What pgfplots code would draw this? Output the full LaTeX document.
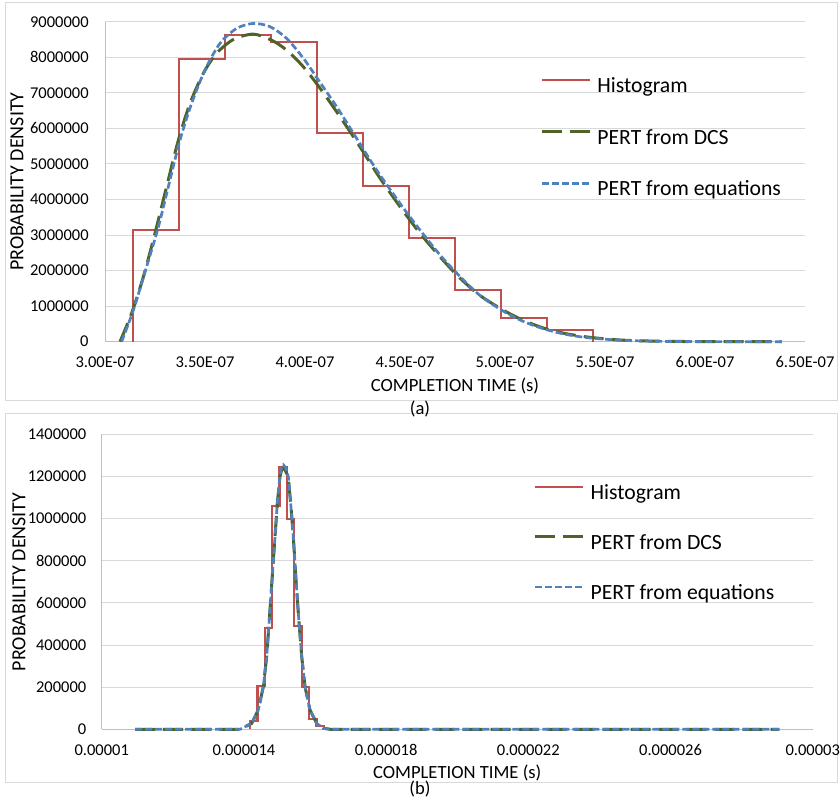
\documentclass[border=0pt]{standalone}
\usepackage{fontspec}
\setmainfont{Carlito}
\usepackage{pgfplots}
\pgfplotsset{compat=1.18}

\definecolor{histred}{HTML}{C0504D}
\definecolor{dcsgreen}{HTML}{4F6228}
\definecolor{eqblue}{HTML}{4F81BD}
\definecolor{gridgray}{HTML}{D9D9D9}
\definecolor{axisgray}{HTML}{BFBFBF}

\pgfplotsset{
  panel/.style={
    scale only axis,
    clip=false,
    axis x line*=bottom,
    axis y line*=left,
    axis line style={draw=axisgray, line width=0.5pt},
    x axis line style={-}, y axis line style={-},
    ymajorgrids,
    grid style={draw=gridgray, line width=0.5pt},
    major tick length=0pt,
    scaled x ticks=false, scaled y ticks=false,
    tick label style={font=\fontsize{8.25}{9.9}\selectfont, inner sep=0pt},
    xticklabel style={anchor=center, yshift=-10.4pt},
    every axis x label/.style={at={(axis description cs:0.5,0)}, anchor=center, yshift=-22pt},
    label style={font=\fontsize{9.3}{11}\selectfont},
    legend cell align=left,
    legend image code/.code={\draw[##1] (0pt,3.6pt) -- (24pt,3.6pt);},
  },
  histo/.style={histred, line width=1.1pt, const plot},
  dcs/.style={dcsgreen, line width=1.5pt, dash pattern=on 10pt off 4pt},
  eqs/.style={eqblue, line width=1.35pt, dash pattern=on 3.5pt off 1.5pt},
}

\begin{document}
\begin{tikzpicture}
\useasboundingbox (0pt,0pt) rectangle (420pt,400.5pt);
\draw[gridgray, line width=0.5pt] (2.5pt,200pt) rectangle (418.5pt,399pt);
\draw[gridgray, line width=0.5pt] (2.5pt,9pt) rectangle (418.5pt,193.5pt);

% ---------------- (a) ----------------
\begin{axis}[panel,
  at={(52.5pt,229.65pt)}, width=350pt, height=160pt,
  xmin=3e-7, xmax=6.5e-7, ymin=0, ymax=9000000,
  xtick={3e-7,3.5e-7,4e-7,4.5e-7,5e-7,5.5e-7,6e-7,6.5e-7},
  xticklabels={3.00E-07,3.50E-07,4.00E-07,4.50E-07,5.00E-07,5.50E-07,6.00E-07,6.50E-07},
  ytick={0,1000000,2000000,3000000,4000000,5000000,6000000,7000000,8000000,9000000},
  yticklabels={0,1000000,2000000,3000000,4000000,5000000,6000000,7000000,8000000,9000000},
  yticklabel style={anchor=east, xshift=-8pt},
  xlabel={COMPLETION TIME (s)},
  ylabel={PROBABILITY DENSITY},
  every axis y label/.style={at={(axis description cs:-0.1257,0.5)}, rotate=90, anchor=center},
  legend style={at={(0.6214,0.830)}, anchor=north west, draw=none, fill=none,
    inner sep=0pt, row sep=15.35pt, column sep=3pt,
    font=\fontsize{10.85}{13}\selectfont,
    nodes={inner sep=0pt, text height=8pt, text depth=2.5pt}},
]
\addplot[histo] coordinates {
  (3.1385e-7,0) (3.1385e-7,3140000) (3.3685e-7,7960000) (3.5985e-7,8630000)
  (3.8285e-7,8430000) (4.0585e-7,5860000) (4.2885e-7,4380000) (4.5185e-7,2920000)
  (4.7485e-7,1450000) (4.9785e-7,660000) (5.2085e-7,330000) (5.4385e-7,0)
};
\addlegendentry{Histogram}
\addplot[dcs, smooth, tension=0.5] coordinates {
  (3.075e-7,0) (3.133e-7,800000) (3.192e-7,1830000) (3.250e-7,3050000)
  (3.308e-7,4360000) (3.367e-7,5670000) (3.425e-7,6700000) (3.492e-7,7550000)
  (3.558e-7,8110000) (3.642e-7,8500000) (3.742e-7,8650000) (3.833e-7,8480000)
  (3.908e-7,8200000) (3.992e-7,7730000) (4.075e-7,7130000) (4.175e-7,6330000)
  (4.275e-7,5480000) (4.375e-7,4600000) (4.475e-7,3800000) (4.575e-7,3050000)
  (4.675e-7,2390000) (4.767e-7,1830000) (4.875e-7,1300000) (5.000e-7,860000)
  (5.100e-7,580000) (5.200e-7,370000) (5.300e-7,230000) (5.400e-7,140000)
  (5.500e-7,80000) (5.600e-7,40000) (5.750e-7,15000) (5.900e-7,5000)
  (6.100e-7,1000) (6.383e-7,0)
};
\addlegendentry{PERT from DCS}
\addplot[eqs, smooth, tension=0.5] coordinates {
  (3.083e-7,0) (3.142e-7,890000) (3.208e-7,2110000) (3.267e-7,3230000)
  (3.325e-7,4550000) (3.375e-7,5670000) (3.433e-7,6700000) (3.500e-7,7640000)
  (3.575e-7,8390000) (3.658e-7,8810000) (3.742e-7,8950000) (3.825e-7,8860000)
  (3.908e-7,8530000) (3.992e-7,7970000) (4.067e-7,7360000) (4.158e-7,6610000)
  (4.258e-7,5720000) (4.358e-7,4830000) (4.475e-7,3890000) (4.575e-7,3140000)
  (4.675e-7,2440000) (4.767e-7,1880000) (4.875e-7,1300000) (5.000e-7,830000)
  (5.100e-7,550000) (5.200e-7,350000) (5.300e-7,210000) (5.400e-7,120000)
  (5.500e-7,70000) (5.600e-7,35000) (5.750e-7,12000) (5.900e-7,4000)
  (6.100e-7,1000) (6.383e-7,0)
};
\addlegendentry{PERT from equations}
\end{axis}
\node[font=\fontsize{9.3}{11}\selectfont] at (210pt,196pt) {(a)};

% ---------------- (b) ----------------
\begin{axis}[panel,
  at={(50.85pt,35.85pt)}, width=355.5pt, height=147.5pt,
  xmin=1e-5, xmax=3e-5, ymin=0, ymax=1400000,
  xtick={1e-5,1.4e-5,1.8e-5,2.2e-5,2.6e-5,3e-5},
  xticklabels={0.00001,0.000014,0.000018,0.000022,0.000026,0.00003},
  ytick={0,200000,400000,600000,800000,1000000,1200000,1400000},
  yticklabels={0,200000,400000,600000,800000,1000000,1200000,1400000},
  yticklabel style={anchor=east, xshift=-7.5pt},
  xlabel={COMPLETION TIME (s)},
  ylabel={PROBABILITY DENSITY},
  every axis y label/.style={at={(axis description cs:-0.1163,0.5)}, rotate=90, anchor=center},
  legend style={at={(0.607,0.835)}, anchor=north west, draw=none, fill=none,
    inner sep=0pt, row sep=14.6pt, column sep=3pt,
    font=\fontsize{10.85}{13}\selectfont,
    nodes={inner sep=0pt, text height=8pt, text depth=2.5pt}},
]
\addplot[histo] coordinates {
  (1.4172e-5,0) (1.4172e-5,41000) (1.4380e-5,206000) (1.4588e-5,479000)
  (1.4796e-5,1060000) (1.5004e-5,1245000) (1.5212e-5,997000) (1.5420e-5,490000)
  (1.5628e-5,202000) (1.5836e-5,47000) (1.6044e-5,16000) (1.6252e-5,0)
};
\addlegendentry{Histogram}
\addplot[dcs] coordinates {
  (1.094e-5,0) (1.389e-5,0) (1.4219e-5,28000) (1.4405e-5,92000)
  (1.4546e-5,202000) (1.4641e-5,345000) (1.4734e-5,566000) (1.4810e-5,756000)
  (1.4875e-5,914000) (1.4940e-5,1073000) (1.5015e-5,1199000) (1.5060e-5,1230000)
  (1.5109e-5,1240000) (1.5170e-5,1228000) (1.5250e-5,1190000) (1.5316e-5,1073000)
  (1.5390e-5,914000) (1.5466e-5,709000) (1.5531e-5,551000) (1.5626e-5,345000)
  (1.5719e-5,202000) (1.5859e-5,92000) (1.6048e-5,28000) (1.6234e-5,5000)
  (1.6430e-5,0) (2.906e-5,0)
};
\addlegendentry{PERT from DCS}
\addplot[eqs] coordinates {
  (1.094e-5,0) (1.389e-5,0) (1.4219e-5,28000) (1.4405e-5,92000)
  (1.4546e-5,202000) (1.4641e-5,345000) (1.4734e-5,566000) (1.4810e-5,756000)
  (1.4875e-5,914000) (1.4940e-5,1073000) (1.5015e-5,1205000) (1.5060e-5,1245000)
  (1.5109e-5,1255000) (1.5170e-5,1243000) (1.5250e-5,1199000) (1.5316e-5,1073000)
  (1.5390e-5,914000) (1.5466e-5,709000) (1.5531e-5,551000) (1.5626e-5,345000)
  (1.5719e-5,202000) (1.5859e-5,92000) (1.6048e-5,28000) (1.6234e-5,5000)
  (1.6430e-5,0) (2.906e-5,0)
};
\addlegendentry{PERT from equations}
\end{axis}
\node[font=\fontsize{9.3}{11}\selectfont] at (210pt,6pt) {(b)};
\end{tikzpicture}
\end{document}
